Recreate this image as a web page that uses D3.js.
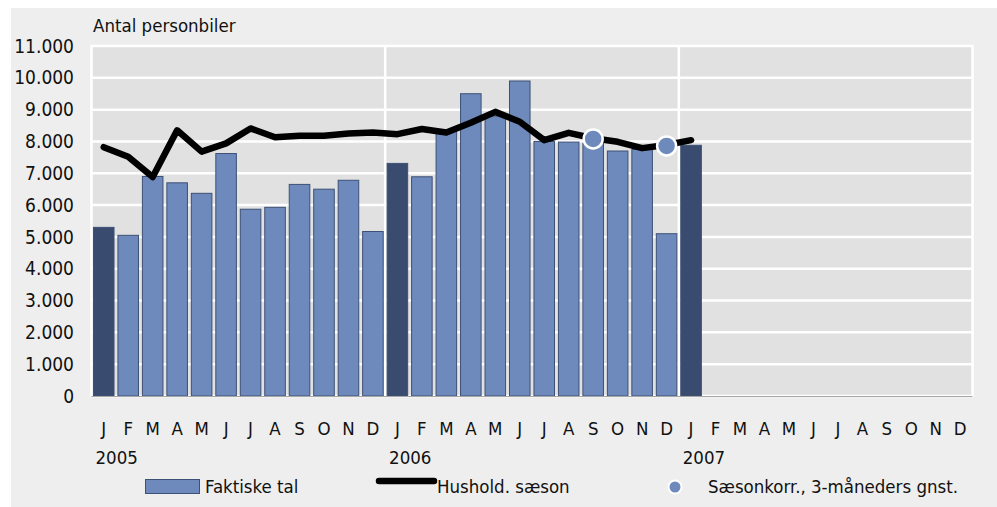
<!DOCTYPE html>
<meta charset="utf-8">
<html>
<head>
<style>
body { margin: 0; background: #fff; }
svg text { font-family: "Liberation Sans Narrow", "DejaVu Sans Condensed", sans-serif; fill: #111; }
</style>
</head>
<body>
<svg class="chart" width="997" height="507"></svg>

<script src="https://cdn.jsdelivr.net/npm/d3@7"></script>
<script>

const months = ["J","F","M","A","M","J","J","A","S","O","N","D"]
const years = ["2005","2006","2007"]
const yTicks = [0,1000,2000,3000,4000,5000,6000,7000,8000,9000,10000,11000]

// Faktiske tal, jan 2005 - jan 2007
const actual = [5300,5050,6900,6700,6370,7620,5870,5930,6650,6500,6780,5170,
                7310,6890,8350,9500,8800,9900,8000,7980,7950,7700,7750,5100,
                7880]

// Hushold. saeson
const season = [7820,7520,6880,8350,7680,7940,8410,8130,8180,8180,8250,8280,
                8230,8390,8280,8590,8930,8620,8040,8270,8100,7990,7790,7890,
                8040]

// Saesonkorr., 3-maaneders gnst. (index -> value)
const adjIdx = [20, 23]
const adjVal = [8080, 7860]

const svg = d3.select("svg.chart")
const W = 997, H = 507
const pLeft = 91.5, pRight = 972.5, pTop = 46, pBottom = 396
const fs = 18.5

const slots = d3.range(36)

const x = d3.scaleBand()
  .domain(slots)
  .range([pLeft, pRight])
  .paddingInner(0.16)
  .paddingOuter(0.08)

const y = d3.scaleLinear()
  .domain([0, 11000])
  .range([pBottom, pTop])

const fmt = (v) => d3.format(",")(v).replace(/,/g, ".")

// outer panel
svg.append("rect")
  .attr("x", 11).attr("y", 8)
  .attr("width", W - 11).attr("height", H - 8)
  .attr("fill", "#eeeeee")

// plot area
svg.append("rect")
  .attr("x", pLeft).attr("y", pTop)
  .attr("width", pRight - pLeft).attr("height", pBottom - pTop)
  .attr("fill", "#e1e1e1")
  .attr("stroke", "#fff")
  .attr("stroke-width", 2.5)

// horizontal grid
svg.append("g").selectAll("line")
  .data(yTicks.filter((d) => d > 0 && d < 11000))
  .enter().append("line")
  .attr("x1", pLeft).attr("x2", pRight)
  .attr("y1", (d) => y(d)).attr("y2", (d) => y(d))
  .attr("stroke", "#fff")
  .attr("stroke-width", 2.5)

// year separators
svg.append("g").selectAll("line")
  .data([12, 24])
  .enter().append("line")
  .attr("x1", (d) => pLeft + d * x.step()).attr("x2", (d) => pLeft + d * x.step())
  .attr("y1", pTop).attr("y2", pBottom)
  .attr("stroke", "#fff")
  .attr("stroke-width", 2.5)

// y axis labels
const yAxis = d3.axisLeft(y).tickValues(yTicks).tickFormat(fmt).tickSize(0).tickPadding(0)
svg.append("g")
  .attr("transform", "translate(74,0)")
  .call(yAxis)
  .call((g) => g.select(".domain").remove())
  .selectAll("text")
  .attr("font-size", fs + 0.5)
  .attr("font-family", null)
  .attr("fill", "#111")

// title
svg.append("text")
  .attr("x", 93).attr("y", 32)
  .attr("font-size", fs)
  .text("Antal personbiler")

// bars
svg.append("g").selectAll("rect")
  .data(actual)
  .enter().append("rect")
  .attr("x", (d, i) => x(i))
  .attr("width", x.bandwidth())
  .attr("y", (d) => y(d))
  .attr("height", (d) => y(0) - y(d))
  .attr("fill", (d, i) => i % 12 == 0 ? "#394c6f" : "#6e8abd")
  .attr("stroke", "#3d5075")
  .attr("stroke-width", 1)

// baseline
svg.append("line")
  .attr("x1", pLeft).attr("x2", pRight)
  .attr("y1", pBottom + 0.5).attr("y2", pBottom + 0.5)
  .attr("stroke", "#a6a6a6")
  .attr("stroke-width", 1)

// season line
const line = d3.line()
  .x((d, i) => x(i) + x.bandwidth() / 2)
  .y((d) => y(d))

svg.append("path")
  .datum(season)
  .attr("d", line)
  .attr("fill", "none")
  .attr("stroke", "#000")
  .attr("stroke-width", 6.5)
  .attr("stroke-linejoin", "round")
  .attr("stroke-linecap", "round")

// adjusted dots
svg.append("g").selectAll("circle")
  .data(adjIdx)
  .enter().append("circle")
  .attr("cx", (d) => x(d) + x.bandwidth() / 2)
  .attr("cy", (d, i) => y(adjVal[i]))
  .attr("r", 9.5)
  .attr("fill", "#6e8abd")
  .attr("stroke", "#fff")
  .attr("stroke-width", 2.5)

// month labels
const xAxis = d3.axisBottom(x).tickFormat((d) => months[d % 12]).tickSize(0).tickPadding(0)
svg.append("g")
  .attr("transform", "translate(0,422)")
  .call(xAxis)
  .call((g) => g.select(".domain").remove())
  .selectAll("text")
  .attr("font-size", fs)
  .attr("font-family", null)
  .attr("fill", "#111")

// year labels
svg.append("g").selectAll("text")
  .data(years)
  .enter().append("text")
  .attr("x", (d, i) => x(i * 12) + 2)
  .attr("y", 464)
  .attr("font-size", fs)
  .text((d) => d)

// legend
const leg = svg.append("g")
leg.append("rect")
  .attr("x", 145.5).attr("y", 479.5)
  .attr("width", 54).attr("height", 14)
  .attr("fill", "#6e8abd")
  .attr("stroke", "#3d5075")
leg.append("text")
  .attr("x", 205).attr("y", 493)
  .attr("font-size", fs)
  .text("Faktiske tal")

leg.append("line")
  .attr("x1", 379).attr("x2", 434)
  .attr("y1", 481).attr("y2", 481)
  .attr("stroke", "#000")
  .attr("stroke-width", 6.5)
  .attr("stroke-linecap", "round")
leg.append("text")
  .attr("x", 437).attr("y", 493)
  .attr("font-size", fs)
  .text("Hushold. sæson")

leg.append("circle")
  .attr("cx", 675).attr("cy", 487)
  .attr("r", 6.5)
  .attr("fill", "#6e8abd")
  .attr("stroke", "#fff")
  .attr("stroke-width", 2)
leg.append("text")
  .attr("x", 708).attr("y", 493)
  .attr("font-size", fs)
  .text("Sæsonkorr., 3-måneders gnst.")

</script>
</body>
</html>
